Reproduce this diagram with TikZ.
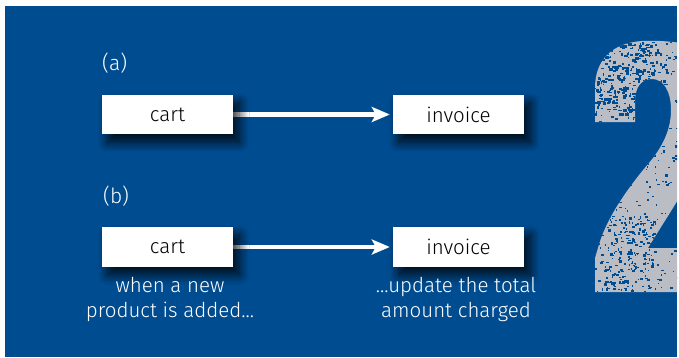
\documentclass[tikz,border=0pt]{standalone}
\usepackage{fontspec}
\setmainfont{Fira Sans Light}
\usetikzlibrary{arrows.meta,shadows.blur}
\definecolor{panelblue}{RGB}{0,76,145}
\definecolor{numgray}{RGB}{186,189,196}
\tikzset{
  slot/.style={minimum width=131pt, minimum height=39pt, inner sep=0pt},
  card/.style={fill=white,
    blur shadow={shadow xshift=6pt, shadow yshift=-8pt, shadow blur radius=10pt, shadow opacity=85, shadow blur steps=14}},
  word/.style={font=\fontsize{20.5}{24}\selectfont, text=black, inner sep=0pt},
  flow/.style={draw=white, line width=4.5pt, -{Stealth[length=18pt, width=15pt, inset=4pt]}, shorten >=3pt},
  tag/.style={text=white, font=\fontsize{21}{24}\selectfont, anchor=west, inner sep=0pt},
  note/.style={text=white, font=\fontsize{20.5}{25}\selectfont, align=center, inner sep=0pt}
}
\begin{document}
\begin{tikzpicture}[x=1pt,y=-1pt]
\useasboundingbox (0,0) rectangle (679,357);
\fill[white] (0,0) rectangle (679,357);
\fill[panelblue] (5,6) rectangle (677,357);

% distressed numeral at the right, clipped to the panel
\begin{scope}
  \clip (5,6) rectangle (677,357);
  \path[fill=numgray, save path=\numpath]
    (595,122) -- (635,122) -- (635,102)
    .. controls (635,86) and (642,79) .. (652,79)
    .. controls (664,79) and (671,92) .. (671,110)
    .. controls (671,130) and (662,148) .. (648,164)
    .. controls (628,188) and (606,218) .. (598,248)
    -- (595,258) -- (595,292) -- (700,292) -- (700,248) -- (648,248)
    .. controls (662,225) and (680,198) .. (694,172)
    -- (700,46)
    .. controls (680,42) and (658,40) .. (642,41)
    .. controls (612,43) and (595,60) .. (595,88) -- cycle;
  \begin{scope}
    \clip[use path=\numpath];
    \pgfmathsetseed{4271}
    % scattered wear over the whole figure
    \foreach \i in {1,...,260} {
      \pgfmathsetmacro\sx{592+88*rnd}
      \pgfmathsetmacro\sy{40+255*rnd}
      \pgfmathsetmacro\sw{0.8+2.4*rnd}
      \pgfmathsetmacro\sh{0.8+1.8*rnd}
      \fill[panelblue] (\sx,\sy) rectangle ++(\sw,\sh);
    }
    % heavier wear in the top bowl
    \foreach \i in {1,...,340} {
      \pgfmathsetmacro\sx{596+70*rnd}
      \pgfmathsetmacro\sy{42+75*rnd}
      \pgfmathsetmacro\sw{0.8+3.4*rnd}
      \pgfmathsetmacro\sh{0.8+2.4*rnd}
      \fill[panelblue] (\sx,\sy) rectangle ++(\sw,\sh);
    }
    % and along the lower left of the stem and base
    \foreach \i in {1,...,200} {
      \pgfmathsetmacro\sx{600+55*rnd}
      \pgfmathsetmacro\sy{215+75*rnd}
      \pgfmathsetmacro\sw{0.8+2.6*rnd}
      \pgfmathsetmacro\sh{0.8+2*rnd}
      \fill[panelblue] (\sx,\sy) rectangle ++(\sw,\sh);
    }
  \end{scope}
\end{scope}

% box positions first, so the connectors can run under the cards
\node[slot] (cartA) at (167.5,114.5) {};
\node[slot] (invA) at (458.5,114.5) {};
\node[slot] (cartB) at (167.5,247) {};
\node[slot] (invB) at (458.5,247) {};

\draw[flow] (cartA.east) -- (invA.west);
\draw[flow] (cartB.east) -- (invB.west);

% cards with their soft shadows, drawn over the connector ends
\foreach \b in {cartA,invA,cartB,invB}
  \fill[card] (\b.south west) rectangle (\b.north east);

% (a)
\node[tag] (labA) at (102,63) {(a)};
\node[word] (cartAtxt) at (cartA) {cart};
\node[word] (invAtxt) at (invA) {invoice};

% (b)
\node[tag] (labB) at (103,196) {(b)};
\node[word] (cartBtxt) at (cartB) {cart};
\node[word] (invBtxt) at (invB) {invoice};
\node[note] (noteB1) at (170,299) {when a new\\product is added...};
\node[note] (noteB2) at (456,299) {...update the total\\amount charged};
\end{tikzpicture}
\end{document}
